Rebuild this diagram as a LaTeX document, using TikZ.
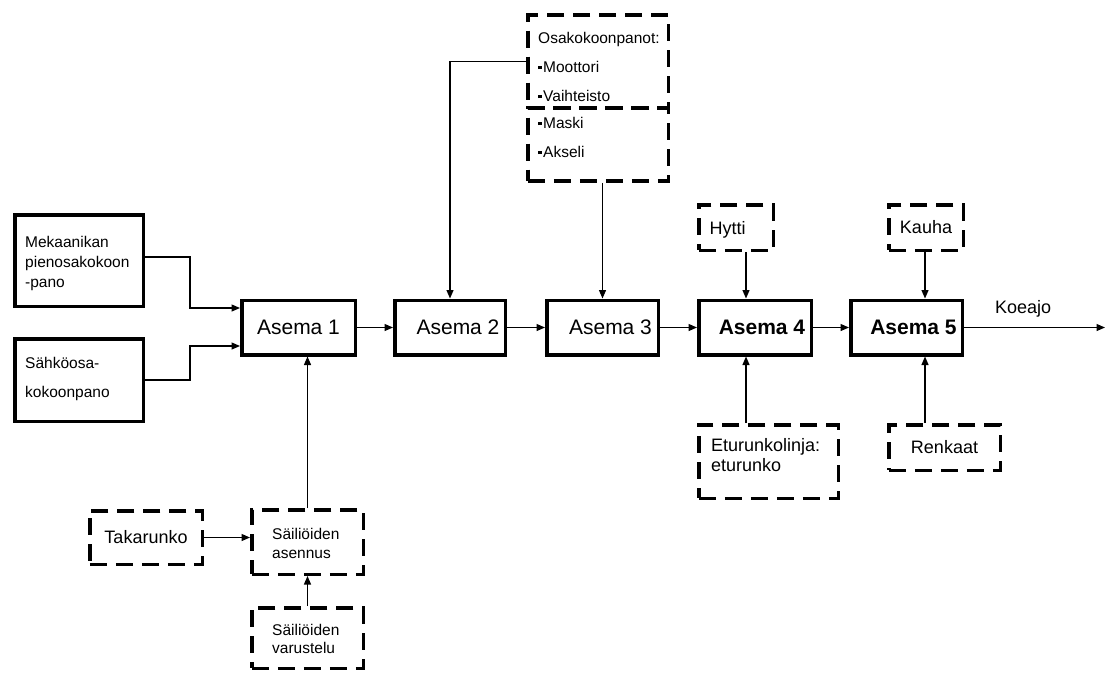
\documentclass[tikz,border=0pt]{standalone}
\usepackage{fontspec}
\setmainfont{Liberation Sans}
\usetikzlibrary{arrows.meta}
\newcommand\sqb{\rule[3pt]{3.5pt}{3.5pt}\hspace{1.5pt}}
\newcommand\tlines[1]{\begin{tabular}[t]{@{}l@{}}#1\end{tabular}}
\begin{document}
\begin{tikzpicture}[x=1pt,y=-1pt,
  sbox/.style={draw, line width=3.5pt, rectangle, inner sep=0pt},
  dbox/.style={draw, line width=3.5pt, dash pattern=on 17pt off 9pt, rectangle, inner sep=0pt},
  conn/.style={line width=1.3pt, -{Triangle[length=8.5pt,width=7pt]}},
  smalltxt/.style={font=\fontsize{15.5}{20}\selectfont, anchor=base west, inner sep=0pt},
  widetxt/.style={font=\fontsize{15.5}{29}\selectfont, anchor=base west, inner sep=0pt},
  bigtxt/.style={font=\fontsize{18}{20}\selectfont},
  stationtxt/.style={font=\fontsize{21}{25}\selectfont},
  stationbold/.style={font=\fontsize{21}{25}\selectfont\bfseries}
]
\useasboundingbox (0,0) rectangle (1108,673);

% solid boxes
\node[sbox, minimum width=128.5pt, minimum height=91.5pt] (mek) at (79,260.5) {};
\node[smalltxt] (mek-t) at (25,247) {\tlines{Mekaanikan\\pienosakokoon\\-pano}};
\node[sbox, minimum width=128.5pt, minimum height=82.5pt] (sah) at (79,380) {};
\node[widetxt] (sah-t) at (25,368) {\tlines{Sähköosa-\\kokoonpano}};

% stations
\node[sbox, stationtxt, minimum width=113.5pt, minimum height=54.5pt] (a1) at (298.5,327.5) {Asema 1};
\node[sbox, stationtxt, minimum width=110.5pt, minimum height=54.5pt] (a2) at (450,327.5) {\hspace*{16pt}Asema 2};
\node[sbox, stationtxt, minimum width=111.5pt, minimum height=54.5pt] (a3) at (602.5,327.5) {\hspace*{16pt}Asema 3};
\node[sbox, stationbold, minimum width=112.5pt, minimum height=54.5pt] (a4) at (755,327.5) {\hspace*{14pt}Asema 4};
\node[sbox, stationbold, minimum width=111.5pt, minimum height=54.5pt] (a5) at (906.5,327.5) {\hspace*{14pt}Asema 5};

% dashed boxes, top
\node[dbox, minimum width=140.5pt, minimum height=93.25pt] (osa) at (598,61.4) {};
\node[widetxt] (osa-t) at (538,43) {\tlines{Osakokoonpanot:\\\sqb Moottori\\\sqb Vaihteisto}};
\node[dbox, minimum width=140.5pt, minimum height=73.25pt] (mas) at (598,144.6) {};
\node[widetxt] (mas-t) at (538,128) {\tlines{\sqb Maski\\\sqb Akseli}};

\node[dbox, bigtxt, minimum width=74.5pt, minimum height=45.5pt, text depth=0pt] (hyt) at (736,227.5) {Hytti\hspace*{17pt}};
\node[dbox, bigtxt, minimum width=74.5pt, minimum height=45.5pt] (kau) at (926,227.5) {Kauha};

% dashed boxes, bottom
\node[dbox, minimum width=139.5pt, minimum height=73.5pt] (etu) at (768.5,461.5) {};
\node[anchor=base west, inner sep=0pt, font=\fontsize{18}{20}\selectfont] (etu-t) at (711,451) {\tlines{Eturunkolinja:\\eturunko}};
\node[dbox, bigtxt, minimum width=111.5pt, minimum height=45.5pt] (ren) at (944.5,447.5) {Renkaat};

\node[dbox, bigtxt, minimum width=112.5pt, minimum height=53.5pt] (tak) at (146,537.5) {Takarunko};
\node[dbox, minimum width=111.5pt, minimum height=64.5pt] (ase) at (307.5,542) {};
\node[anchor=base west, inner sep=0pt, font=\fontsize{15.5}{19}\selectfont] (ase-t) at (272,539) {\tlines{Säiliöiden\\asennus}};
\node[dbox, minimum width=111.5pt, minimum height=60.5pt] (var) at (307.5,638) {};
\node[anchor=base west, inner sep=0pt, font=\fontsize{15.5}{18.5}\selectfont] (var-t) at (272,635) {\tlines{Säiliöiden\\varustelu}};

% output label
\node[bigtxt, anchor=base west, inner sep=0pt] (koe) at (995,313) {Koeajo};

% helper coordinates
\coordinate (m1) at (190,257);
\coordinate (m2) at (190,308);
\coordinate (s1) at (190,380);
\coordinate (s2) at (190,346);
\coordinate (x4) at (746,0);
\coordinate (x5) at (925,0);
\coordinate (out) at (1105,327.5);

% connectors
\draw[conn] (mek.east |- m1) -- (m1) -- (m2) -- (a1.west |- m2);
\draw[conn] (sah.east |- s1) -- (s1) -- (s2) -- (a1.west |- s2);
\draw[conn] (a1.east) -- (a2.west);
\draw[conn] (a2.east) -- (a3.west);
\draw[conn] (a3.east) -- (a4.west);
\draw[conn] (a4.east) -- (a5.west);
\draw[conn] (a5.east) -- (out);
\draw[conn] (osa.west) -| (a2.north);
\draw[conn] (a3.north |- mas.south) -- (a3.north);
\draw[conn] (hyt.south -| x4) -- (a4.north -| x4);
\draw[conn] (etu.north -| x4) -- (a4.south -| x4);
\draw[conn] (kau.south -| x5) -- (a5.north -| x5);
\draw[conn] (ren.north -| x5) -- (a5.south -| x5);
\draw[conn] (tak.east) -- (tak.east -| ase.west);
\draw[conn] (var.north) -- (ase.south);
\draw[conn] (ase.north) -- (ase.north |- a1.south);
\end{tikzpicture}
\end{document}
